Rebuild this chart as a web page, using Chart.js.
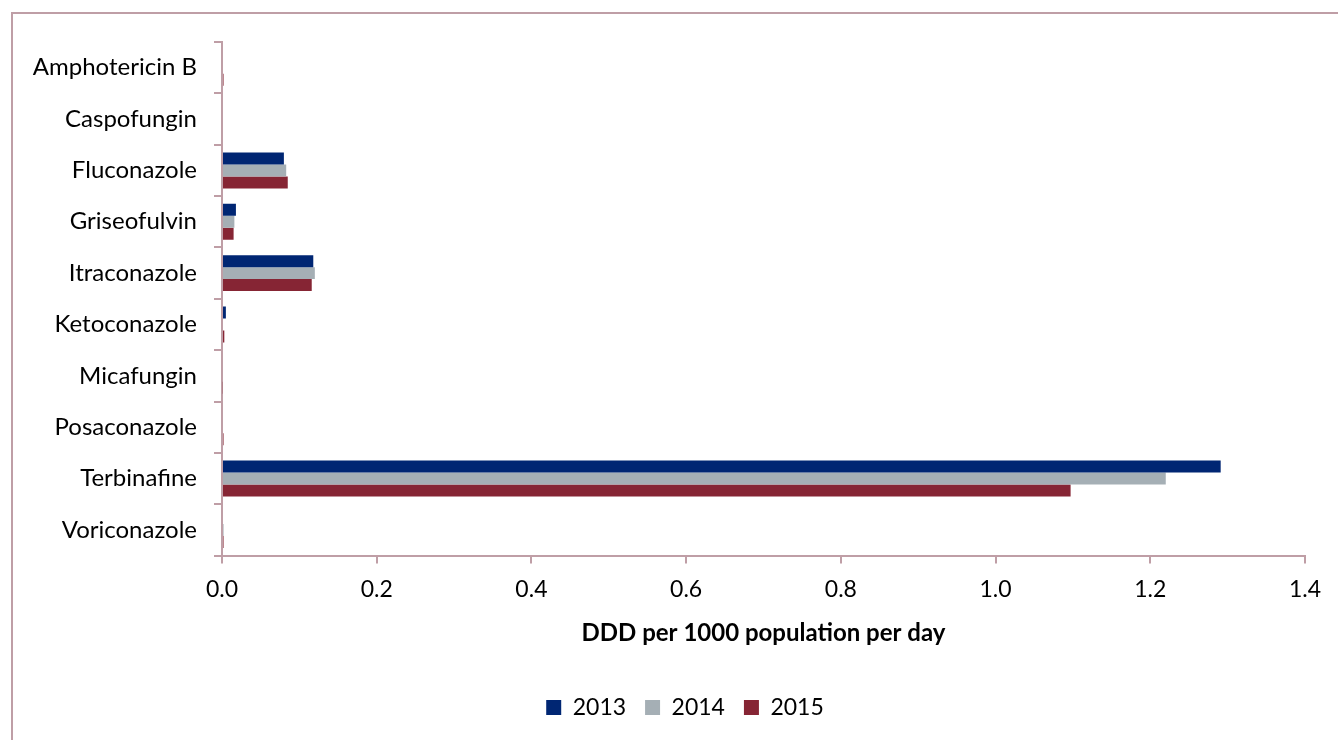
<!DOCTYPE html>
<html>
<head>
<meta charset="utf-8">
<script src="https://cdn.jsdelivr.net/npm/chart.js@4"></script>
<style>
  html, body { margin: 0; padding: 0; background: #fff; }
  #wrap { width: 1338px; height: 740px; }
</style>
</head>
<body>
<div id="wrap"><canvas id="chart" width="1338" height="740"></canvas></div>
<script>
// Data
const drugs = ['Amphotericin B', 'Caspofungin', 'Fluconazole', 'Griseofulvin', 'Itraconazole',
    'Ketoconazole', 'Micafungin', 'Posaconazole', 'Terbinafine', 'Voriconazole'];
const years = ['2013', '2014', '2015'];
const ddd2013 = [0, 0, 0.080, 0.018, 0.118, 0.005, 0, 0, 1.291, 0];
const ddd2014 = [0, 0, 0.083, 0.016, 0.120, 0, 0, 0, 1.220, 0.002];
const ddd2015 = [0.002, 0, 0.085, 0.015, 0.116, 0.003, 0.001, 0.002, 1.097, 0.002];
const xTicks = [0, 0.2, 0.4, 0.6, 0.8, 1.0, 1.2, 1.4];

const colors = ['#002673', '#a5afb5', '#862534'];
const axisColor = '#bf9ea6';
const font = 'Lato, "Liberation Sans", sans-serif';

// Outer frame like the original spreadsheet chart
const framePlugin = {
    id: 'frame',
    beforeDraw(chart) {
        const ctx = chart.ctx;
        ctx.save();
        ctx.fillStyle = '#fff';
        ctx.fillRect(0, 0, chart.width, chart.height);
        ctx.strokeStyle = axisColor;
        ctx.lineWidth = 2;
        ctx.strokeRect(12, 13, chart.width + 20, chart.height + 20);
        ctx.restore();
    },
    afterLayout(chart) {
        // nudge legend to the right, as in the original
        chart.legend.left += 27;
        chart.legend.right += 27;
    }
};

const ctx = document.getElementById('chart').getContext('2d');
new Chart(ctx, {
    type: 'bar',
    data: {
        labels: drugs,
        datasets: [ddd2013, ddd2014, ddd2015].map((d, i) => ({
            label: years[i],
            data: d,
            backgroundColor: colors[i],
            borderWidth: 0,
            categoryPercentage: 0.7,
            barPercentage: 1
        }))
    },
    options: {
        indexAxis: 'y',
        responsive: false,
        animation: false,
        layout: { padding: { left: 11, top: 42, right: 33, bottom: 11 } },
        scales: {
            x: {
                min: 0,
                max: 1.4,
                afterBuildTicks(scale) {
                    scale.ticks = xTicks.map(v => ({ value: v }));
                },
                ticks: {
                    color: '#000',
                    font: { family: font, size: 23 },
                    padding: 12,
                    callback: v => Number(v).toFixed(1)
                },
                grid: {
                    drawOnChartArea: false,
                    color: axisColor,
                    lineWidth: 2,
                    tickLength: 8
                },
                border: { color: axisColor, width: 2 },
                title: {
                    display: true,
                    text: 'DDD per 1000 population per day',
                    color: '#000',
                    font: { family: font, size: 24, weight: 'bold' },
                    padding: { top: 4, bottom: 29 }
                }
            },
            y: {
                afterFit(scale) { scale.width = 211; },
                ticks: {
                    color: '#000',
                    font: { family: font, size: 24 },
                    padding: 17
                },
                grid: {
                    drawOnChartArea: false,
                    color: axisColor,
                    lineWidth: 2,
                    tickLength: 8
                },
                border: { color: axisColor, width: 2 }
            }
        },
        plugins: {
            legend: {
                position: 'bottom',
                labels: {
                    color: '#000',
                    font: { family: font, size: 23 },
                    boxWidth: 15,
                    boxHeight: 15,
                    padding: 19
                }
            },
            tooltip: { enabled: false }
        }
    },
    plugins: [framePlugin]
});
</script>
</body>
</html>
